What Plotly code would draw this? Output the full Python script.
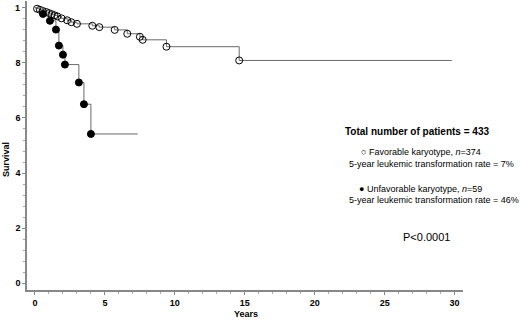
import plotly.graph_objects as go

# Favorable karyotype (time in years, survival)
fav_t = [0.0, 0.15, 0.35, 0.55, 0.8, 1.0, 1.2, 1.4, 1.6, 1.9, 2.3, 2.6, 3.0, 4.1, 4.6, 5.7, 6.6, 7.5, 7.7, 9.4, 14.6]
fav_s = [1.0, 0.997, 0.993, 0.989, 0.985, 0.981, 0.977, 0.973, 0.969, 0.962, 0.955, 0.948, 0.942, 0.935, 0.930, 0.920, 0.906, 0.895, 0.884, 0.859, 0.809]
fav_end = 29.8

# Unfavorable karyotype
unf_t = [0.0, 0.57, 1.07, 1.5, 1.71, 2.0, 2.14, 3.14, 3.5, 4.0]
unf_s = [1.0, 0.978, 0.953, 0.921, 0.863, 0.830, 0.794, 0.729, 0.650, 0.542]
unf_end = 7.35

yticks = [0, 0.2, 0.4, 0.6, 0.8, 1.0]
ytext = ["0", "2", "4", "6", "8", "1"]
xticks = [0, 5, 10, 15, 20, 25, 30]

FONT = "Liberation Sans, Arial, sans-serif"
LINE = "#6a6a6a"

W, H = 520, 320
L, R, T, B = 27, 57, 1, 30
PW, PH = W - L - R, H - T - B
YR = [-0.025, 1.025]


def px(x):
    return (x - L) / PW


def py(y):
    return 1 - (y - T) / PH


fig = go.Figure()

for t, s, end, sym in [(fav_t, fav_s, fav_end, "circle-open"), (unf_t, unf_s, unf_end, "circle")]:
    fig.add_trace(go.Scatter(x=t + [end], y=s + [s[-1]], mode="lines",
                             line=dict(color=LINE, width=1, shape="hv"),
                             showlegend=False, hoverinfo="skip", cliponaxis=False))
    fig.add_trace(go.Scatter(x=t[1:], y=s[1:], mode="markers",
                             marker=dict(symbol=sym, size=7,
                                         color="black", line=dict(color="black", width=1)),
                             showlegend=False, cliponaxis=False))

ann = [
    dict(x=343, y=131, text="<b>Total number of patients = 433</b>", size=10),
    dict(x=359, y=152, text="○ Favorable karyotype, <i>n</i>=374", size=9),
    dict(x=347, y=164, text="5-year leukemic transformation rate = 7%", size=9),
    dict(x=357, y=189, text="● Unfavorable karyotype, <i>n</i>=59", size=9),
    dict(x=347, y=200, text="5-year leukemic transformation rate = 46%", size=9),
]
for a in ann:
    fig.add_annotation(x=px(a["x"]), y=py(a["y"]), xref="paper", yref="paper",
                       xanchor="left", yanchor="middle", showarrow=False,
                       text=a["text"], font=dict(family=FONT, size=a["size"], color="black"))

fig.add_annotation(x=px(426), y=py(237), xref="paper", yref="paper",
                   xanchor="center", yanchor="middle", showarrow=False,
                   text="P<0.0001", font=dict(family=FONT, size=11, color="black"))

# top y tick label placed explicitly at its tick value (avoids edge hiding)
fig.add_annotation(x=0, y=(yticks[-1] - YR[0]) / (YR[1] - YR[0]), xref="paper", yref="paper",
                   xanchor="right", yanchor="middle", xshift=-5, showarrow=False,
                   text="<b>" + ytext[-1] + "</b>",
                   font=dict(family=FONT, size=9, color="black"))

# axis titles
fig.add_annotation(x=px(246), y=py(314), xref="paper", yref="paper",
                   xanchor="center", yanchor="middle", showarrow=False,
                   text="<b>Years</b>", font=dict(family=FONT, size=9, color="black"))
fig.add_annotation(x=px(6), y=py(160), xref="paper", yref="paper",
                   xanchor="center", yanchor="middle", showarrow=False, textangle=-90,
                   text="<b>Survival</b>", font=dict(family=FONT, size=9, color="black"))

fig.update_layout(
    width=W, height=H,
    margin=dict(l=L, r=R, t=T, b=B),
    plot_bgcolor="white", paper_bgcolor="white",
    font=dict(family=FONT, size=9, color="black"),
    xaxis=dict(range=[-0.57, 30.6], tickvals=xticks, ticks="outside", ticklen=3,
               tickcolor="#888", showline=True, linecolor="#888", linewidth=1.5,
               showgrid=False, zeroline=False, automargin=False,
               tickfont=dict(family=FONT, size=9, color="black", weight="bold"),
               minor=dict(dtick=1, ticks="outside", ticklen=2, tickcolor="#aaa")),
    yaxis=dict(range=YR, tickvals=yticks, ticktext=ytext[:-1] + [""], ticks="outside",
               ticklen=3, tickcolor="#888", showline=True, linecolor="#888", linewidth=1.5,
               showgrid=False, zeroline=False, automargin=False,
               tickfont=dict(family=FONT, size=9, color="black", weight="bold"),
               minor=dict(dtick=0.04, ticks="outside", ticklen=2, tickcolor="#aaa")),
)

fig.write_html("out.html", config={"displayModeBar": False},
               post_script="document.body.style.margin='0';")
